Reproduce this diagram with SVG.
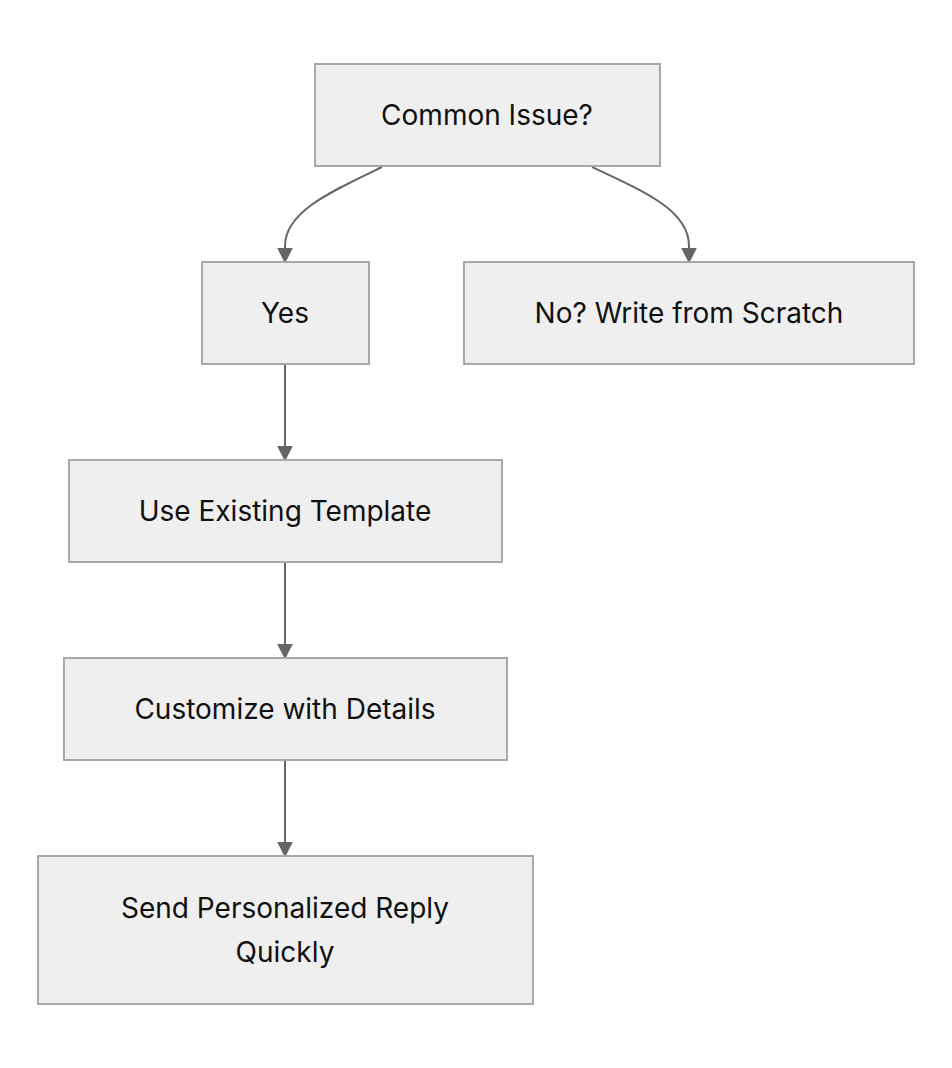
<svg xmlns="http://www.w3.org/2000/svg" width="952" height="1068" viewBox="0 0 952 1068">
<style>
.n{fill:#efefef;stroke:#a8a8a8;stroke-width:2}
.t{font-family:Inter,"Liberation Sans",sans-serif;font-size:28px;fill:#111;text-anchor:middle;dominant-baseline:central}
.c{fill:none;stroke:#666;stroke-width:2}
</style>
<defs><marker id="a" viewBox="0 0 10 10" refX="9" refY="5" markerWidth="8" markerHeight="8" markerUnits="userSpaceOnUse" orient="auto"><path d="M0,0L10,5L0,10z" fill="#666"/></marker>
<marker id="b" viewBox="0 0 10 10" refX="9" refY="5" markerWidth="16" markerHeight="16" markerUnits="userSpaceOnUse" orient="auto"><path d="M0,0L10,5L0,10z" fill="#666"/></marker></defs>
<rect width="952" height="1068" fill="#fff"/>
<g id="connectors">
<path class="c" marker-end="url(#b)" d="M382,167 C330,192 285,212 285,246 L285,262"/>
<path class="c" marker-end="url(#b)" d="M592,167 C650,194 689,212 689,246 L689,262"/>
<path class="c" marker-end="url(#b)" d="M285,364 L285,460"/>
<path class="c" marker-end="url(#b)" d="M285,562 L285,658"/>
<path class="c" marker-end="url(#b)" d="M285,760 L285,856"/>
</g>
<g id="n1"><rect class="n" x="315" y="64" width="345" height="102"/><text class="t" x="487" y="115">Common Issue?</text></g>
<g id="n2"><rect class="n" x="202" y="262" width="167" height="102"/><text class="t" x="285" y="313">Yes</text></g>
<g id="n3"><rect class="n" x="464" y="262" width="450" height="102"/><text class="t" x="689" y="313">No? Write from Scratch</text></g>
<g id="n4"><rect class="n" x="69" y="460" width="433" height="102"/><text class="t" x="285" y="511">Use Existing Template</text></g>
<g id="n5"><rect class="n" x="64" y="658" width="443" height="102"/><text class="t" x="285" y="709">Customize with Details</text></g>
<g id="n6"><rect class="n" x="38" y="856" width="495" height="148"/><text class="t" x="285" y="908">Send Personalized Reply</text><text class="t" x="285" y="952">Quickly</text></g>
</svg>
